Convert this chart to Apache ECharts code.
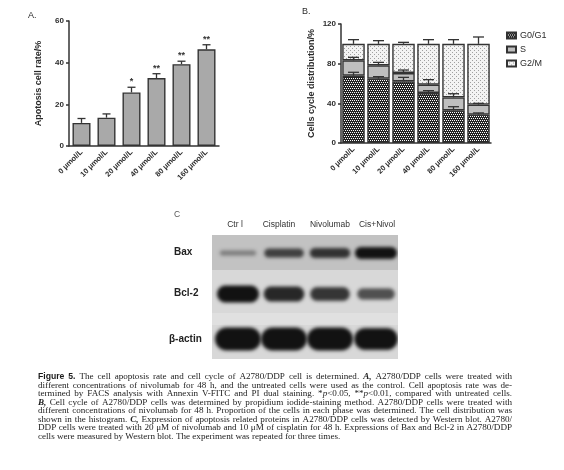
<!DOCTYPE html>
<html><head><meta charset="utf-8">
<script src="https://cdn.jsdelivr.net/npm/echarts@6/dist/echarts.min.js"></script>
<style>html,body{margin:0;padding:0;background:#fff}#c{width:564px;height:470px}</style>
</head><body><div id="c"></div>
<script>
// ---------------- data ----------------
const doseLabels = ['0 μmol/L','10 μmol/L','20 μmol/L','40 μmol/L','80 μmol/L','160 μmol/L'];
const apoptosisRate = [11.1, 13.6, 25.7, 32.6, 39.3, 46.4];
const apoptosisErr  = [2.1, 1.8, 2.5, 2.1, 1.4, 2.2];
const apoptosisSig  = ['', '', '*', '**', '**', '**'];
const g0g1   = [67.9, 64.9, 62.2, 50.4, 32.9, 28.6];
const sPhase = [15.5, 13.4, 8.4, 8.4, 13.1, 10.1];
const g2m    = [16.6, 21.7, 29.4, 41.2, 54.0, 61.3];
const g0g1Err = [3.4, 2.0, 4.0, 2.4, 3.7, 1.7];
const sErr    = [3.0, 3.0, 3.0, 5.1, 3.7, 1.3];
const g2mErr  = [4.2, 3.2, 1.5, 4.2, 4.2, 6.9];
const phaseNames = ['G0/G1', 'S', 'G2/M'];
const apoTicks = {min: 0, max: 60, interval: 20};
const cycleTicks = {min: 0, max: 120, interval: 40};
const laneLabels = ['Ctr l', 'Cisplatin', 'Nivolumab', 'Cis+Nivol'];
const proteinLabels = ['Bax', 'Bcl-2', 'β-actin'];
const baxLevel   = [0.3, 0.7, 0.8, 1.0];
const bcl2Level  = [1.0, 0.85, 0.75, 0.55];
const actinLevel = [1.0, 1.0, 1.0, 0.95];
const captionLines = [
 '[f:Figure] [f:5.] The cell apoptosis rate and cell cycle of A2780/DDP cell is determined. [bi:A,] A2780/DDP cells were treated with',
 'different concentrations of nivolumab for 48 h, and the untreated cells were used as the control. Cell apoptosis rate was de-',
 'termined by FACS analysis with Annexin V-FITC and PI dual staining. *[i:p]<0.05, **[i:p]<0.01, compared with untreated cells.',
 '[bi:B,] Cell cycle of A2780/DDP cells was determined by propidium iodide-staining method. A2780/DDP cells were treated with',
 'different concentrations of nivolumab for 48 h. Proportion of the cells in each phase was determined. The cell distribution was',
 'shown in the histogram. [bi:C,] Expression of apoptosis related proteins in A2780/DDP cells was detected by Western blot. A2780/',
 'DDP cells were treated with 20 μM of nivolumab and 10 μM of cisplatin for 48 h. Expressions of Bax and Bcl-2 in A2780/DDP',
 'cells were measured by Western blot. The experiment was repeated for three times.'
];

// ---------------- helpers ----------------
const SANS = 'Liberation Sans, Arial, sans-serif';
const SERIF = 'Liberation Serif';
const INK = '#2b2b2b';

function makeTile(w, h, bg, dotColor, pts) {
  const c = document.createElement('canvas'); c.width = w; c.height = h;
  const x = c.getContext('2d'); x.fillStyle = bg; x.fillRect(0, 0, w, h);
  x.fillStyle = dotColor; pts.forEach(p => x.fillRect(p[0], p[1], 1, 1));
  return c;
}
const g0Pattern  = {image: makeTile(4, 4, '#222222', '#ffffff', [[0,0],[2,0],[1,2],[3,2]]), repeat: 'repeat'};
const g2mPattern = {image: makeTile(4, 4, '#f3f3f3', '#a0a0a0', [[0,0],[2,2]]), repeat: 'repeat'};
const sColor = '#bfbfbf';

function errRender(capW, sigs) {
  return function (params, api) {
    const x = api.value(0), lo = api.value(1), hi = api.value(2);
    const p0 = api.coord([x, lo]), p1 = api.coord([x, hi]);
    const st = {stroke: '#333', lineWidth: 1.3};
    const ch = [
      {type: 'line', shape: {x1: p0[0], y1: p0[1], x2: p1[0], y2: p1[1]}, style: st},
      {type: 'line', shape: {x1: p1[0] - capW / 2, y1: p1[1], x2: p1[0] + capW / 2, y2: p1[1]}, style: st}
    ];
    if (sigs && sigs[params.dataIndex]) {
      ch.push({type: 'text', x: p1[0], y: p1[1] - 1,
        style: {text: sigs[params.dataIndex], align: 'center', verticalAlign: 'bottom',
                fontSize: 9, fontWeight: 'bold', fontFamily: SANS, fill: '#333'}});
    }
    return {type: 'group', children: ch};
  };
}

// ---------------- western blot (drawn to canvas) ----------------
const blotBox = {x: 212, y: 235, w: 186, h: 124, split: 35};
const laneCenters = [26, 72, 118, 164];
function drawBlot() {
  const S = 2, b = blotBox;
  const c = document.createElement('canvas'); c.width = b.w * S; c.height = b.h * S;
  const g = c.getContext('2d'); g.scale(S, S);
  g.fillStyle = '#c2c2c2'; g.fillRect(0, 0, b.w, b.split);
  g.fillStyle = '#d8d8d8'; g.fillRect(0, b.split, b.w, b.h - b.split);
  g.fillStyle = '#e0e0e0'; g.fillRect(0, 78, b.w, 12);
  function band(cx, cy, rx, ry, a) {
    g.save();
    g.filter = 'blur(' + (1.8 * S) + 'px)';
    g.fillStyle = 'rgba(18,18,18,' + a + ')';
    g.beginPath();
    const r = Math.min(ry, rx);
    g.moveTo(cx - rx + r, cy - ry);
    g.lineTo(cx + rx - r, cy - ry);
    g.arc(cx + rx - r, cy, ry, -Math.PI / 2, Math.PI / 2);
    g.lineTo(cx - rx + r, cy + ry);
    g.arc(cx - rx + r, cy, ry, Math.PI / 2, Math.PI * 1.5);
    g.closePath(); g.fill();
    g.restore();
  }
  baxLevel.forEach((l, i) => band(laneCenters[i], 18, 17 + 4 * l, 1.2 + 4.8 * l, 0.12 + 0.88 * l));
  bcl2Level.forEach((l, i) => band(laneCenters[i], 59, 16 + 5 * l, 2 + 6.5 * l, 0.3 + 0.7 * l));
  actinLevel.forEach((l, i) => band(laneCenters[i], 104, 23 * l, 11.5 * l, 1));
  return c;
}

// ---------------- caption (justified) ----------------
const capBox = {left: 38, right: 512, top: 377, step: 8.45};
const measureCtx = document.createElement('canvas').getContext('2d');
function segFont(kind, fs) {
  if (kind === 'f') return {fontWeight: 'bold', fontStyle: 'normal', fontFamily: SANS, fontSize: fs * 0.95};
  if (kind === 'bi') return {fontWeight: 'bold', fontStyle: 'italic', fontFamily: SERIF, fontSize: fs};
  if (kind === 'i') return {fontWeight: 'normal', fontStyle: 'italic', fontFamily: SERIF, fontSize: fs};
  return {fontWeight: 'normal', fontStyle: 'normal', fontFamily: SERIF, fontSize: fs};
}
function measure(text, f) {
  measureCtx.font = f.fontStyle + ' ' + f.fontWeight + ' ' + f.fontSize + 'px "' + f.fontFamily.split(',')[0] + '"';
  return measureCtx.measureText(text).width;
}
function parseToken(tok) {
  const segs = []; const re = /\[(f|i|bi):([^\]]*)\]|([^\[]+)/g; let m;
  while ((m = re.exec(tok))) segs.push(m[1] ? {kind: m[1], text: m[2]} : {kind: 'n', text: m[3]});
  return segs;
}
function buildCaption() {
  const W = capBox.right - capBox.left;
  const lines = captionLines.map(l => l.split(' ').map(parseToken));
  function natural(line, fs) {
    let w = 0;
    line.forEach(tok => tok.forEach(s => { w += measure(s.text, segFont(s.kind, fs)); }));
    return w + (line.length - 1) * measure(' ', segFont('n', fs));
  }
  let maxW = 0;
  lines.slice(0, -1).forEach(l => { maxW = Math.max(maxW, natural(l, 10)); });
  const fs = Math.max(7, Math.min(10, 10 * W / maxW * 0.985));
  const els = [];
  lines.forEach((line, li) => {
    const widths = line.map(tok => tok.reduce((a, s) => a + measure(s.text, segFont(s.kind, fs)), 0));
    const sum = widths.reduce((a, b) => a + b, 0);
    const last = li === lines.length - 1;
    const gap = last ? measure(' ', segFont('n', fs)) : (W - sum) / (line.length - 1);
    let x = capBox.left; const y = capBox.top + li * capBox.step;
    line.forEach((tok, ti) => {
      let sx = x;
      tok.forEach(s => {
        const f = segFont(s.kind, fs);
        els.push({type: 'text', x: sx, y: y, silent: true,
          style: Object.assign({text: s.text, fill: s.kind === 'f' ? '#1a1a1a' : '#222', align: 'left', verticalAlign: 'middle'}, f)});
        sx += measure(s.text, f);
      });
      x += widths[ti] + gap;
    });
  });
  return els;
}

// ---------------- chart ----------------
const chart = echarts.init(document.getElementById('c'), null, {renderer: 'canvas'});
const axisLineStyle = {color: '#333', width: 1.5};
function xAxisCfg(gi, fs) {
  return {type: 'category', gridIndex: gi, data: doseLabels,
    axisLine: {lineStyle: axisLineStyle}, axisTick: {alignWithLabel: true, length: 3, lineStyle: axisLineStyle},
    axisLabel: {rotate: 45, interval: 0, fontSize: fs, fontWeight: 'bold', fontFamily: SANS, color: INK, margin: 5}};
}
function yAxisCfg(gi, t, name, gap) {
  return {type: 'value', gridIndex: gi, min: t.min, max: t.max, interval: t.interval,
    axisLine: {show: true, lineStyle: axisLineStyle}, axisTick: {show: true, length: 3, lineStyle: axisLineStyle},
    splitLine: {show: false},
    axisLabel: {fontSize: 8, fontWeight: 'bold', fontFamily: SANS, color: INK, margin: 5},
    name: name, nameLocation: 'middle', nameGap: gap,
    nameTextStyle: {fontSize: 9, fontWeight: 'bold', fontFamily: SANS, color: INK}};
}
const barBorder = {borderColor: '#333', borderWidth: 1.4};

const graphics = [
  {type: 'text', x: 28, y: 16, style: {text: 'A.', fontSize: 9, fontFamily: SANS, fill: INK, verticalAlign: 'middle'}},
  {type: 'text', x: 302, y: 12, style: {text: 'B.', fontSize: 9, fontFamily: SANS, fill: INK, verticalAlign: 'middle'}},
  {type: 'text', x: 174, y: 215, style: {text: 'C', fontSize: 8.5, fontFamily: SANS, fill: '#555', verticalAlign: 'middle'}},
  {type: 'image', silent: true, style: {image: drawBlot(), x: blotBox.x, y: blotBox.y, width: blotBox.w, height: blotBox.h}}
];
const laneLabelX = [235, 279, 330, 377];
laneLabels.forEach((t, i) => graphics.push({type: 'text', x: laneLabelX[i], y: 225,
  style: {text: t, align: 'center', verticalAlign: 'middle', fontSize: 8.5, fontFamily: SANS, fill: '#333'}}));
const protY = [252, 293, 339], protX = [174, 174, 169];
proteinLabels.forEach((t, i) => graphics.push({type: 'text', x: protX[i], y: protY[i],
  style: {text: t, align: 'left', verticalAlign: 'middle', fontSize: 10, fontWeight: 'bold', fontFamily: SANS, fill: '#222'}}));
buildCaption().forEach(e => graphics.push(e));

chart.setOption({
  animation: false,
  backgroundColor: '#fff',
  grid: [
    {left: 69, top: 21, width: 150, height: 125},
    {left: 341, top: 24, width: 150, height: 119}
  ],
  xAxis: [xAxisCfg(0, 7.5), xAxisCfg(1, 7.5)],
  yAxis: [yAxisCfg(0, apoTicks, 'Apotosis cell rate/%', 26), yAxisCfg(1, cycleTicks, 'Cells cycle distribution/%', 25)],
  legend: {data: phaseNames, orient: 'vertical', left: 501, top: 26, itemWidth: 9, itemHeight: 6, itemGap: 5,
    icon: 'rect', selectedMode: false, textStyle: {fontSize: 9, fontFamily: SANS, color: INK, padding: [0, 0, 0, -1]}},
  series: [
    {type: 'bar', xAxisIndex: 0, yAxisIndex: 0, data: apoptosisRate, barWidth: '72%',
     itemStyle: Object.assign({color: '#a9a9a9'}, barBorder)},
    {type: 'custom', xAxisIndex: 0, yAxisIndex: 0, renderItem: errRender(8, apoptosisSig), z: 5,
     data: apoptosisRate.map((v, i) => [i, v, v + apoptosisErr[i]])},
    {name: 'G0/G1', type: 'bar', stack: 'cyc', xAxisIndex: 1, yAxisIndex: 1, data: g0g1, barWidth: '90%',
     itemStyle: Object.assign({color: g0Pattern}, barBorder)},
    {name: 'S', type: 'bar', stack: 'cyc', xAxisIndex: 1, yAxisIndex: 1, data: sPhase,
     itemStyle: Object.assign({color: sColor}, barBorder)},
    {name: 'G2/M', type: 'bar', stack: 'cyc', xAxisIndex: 1, yAxisIndex: 1, data: g2m,
     itemStyle: Object.assign({color: g2mPattern}, barBorder)},
    {type: 'custom', xAxisIndex: 1, yAxisIndex: 1, renderItem: errRender(11), z: 5,
     data: [].concat(
       g0g1.map((v, i) => [i, v, v + g0g1Err[i]]),
       g0g1.map((v, i) => [i, v + sPhase[i], v + sPhase[i] + sErr[i]]),
       g0g1.map((v, i) => [i, v + sPhase[i] + g2m[i], v + sPhase[i] + g2m[i] + g2mErr[i]]))}
  ],
  graphic: graphics
});
</script></body></html>
